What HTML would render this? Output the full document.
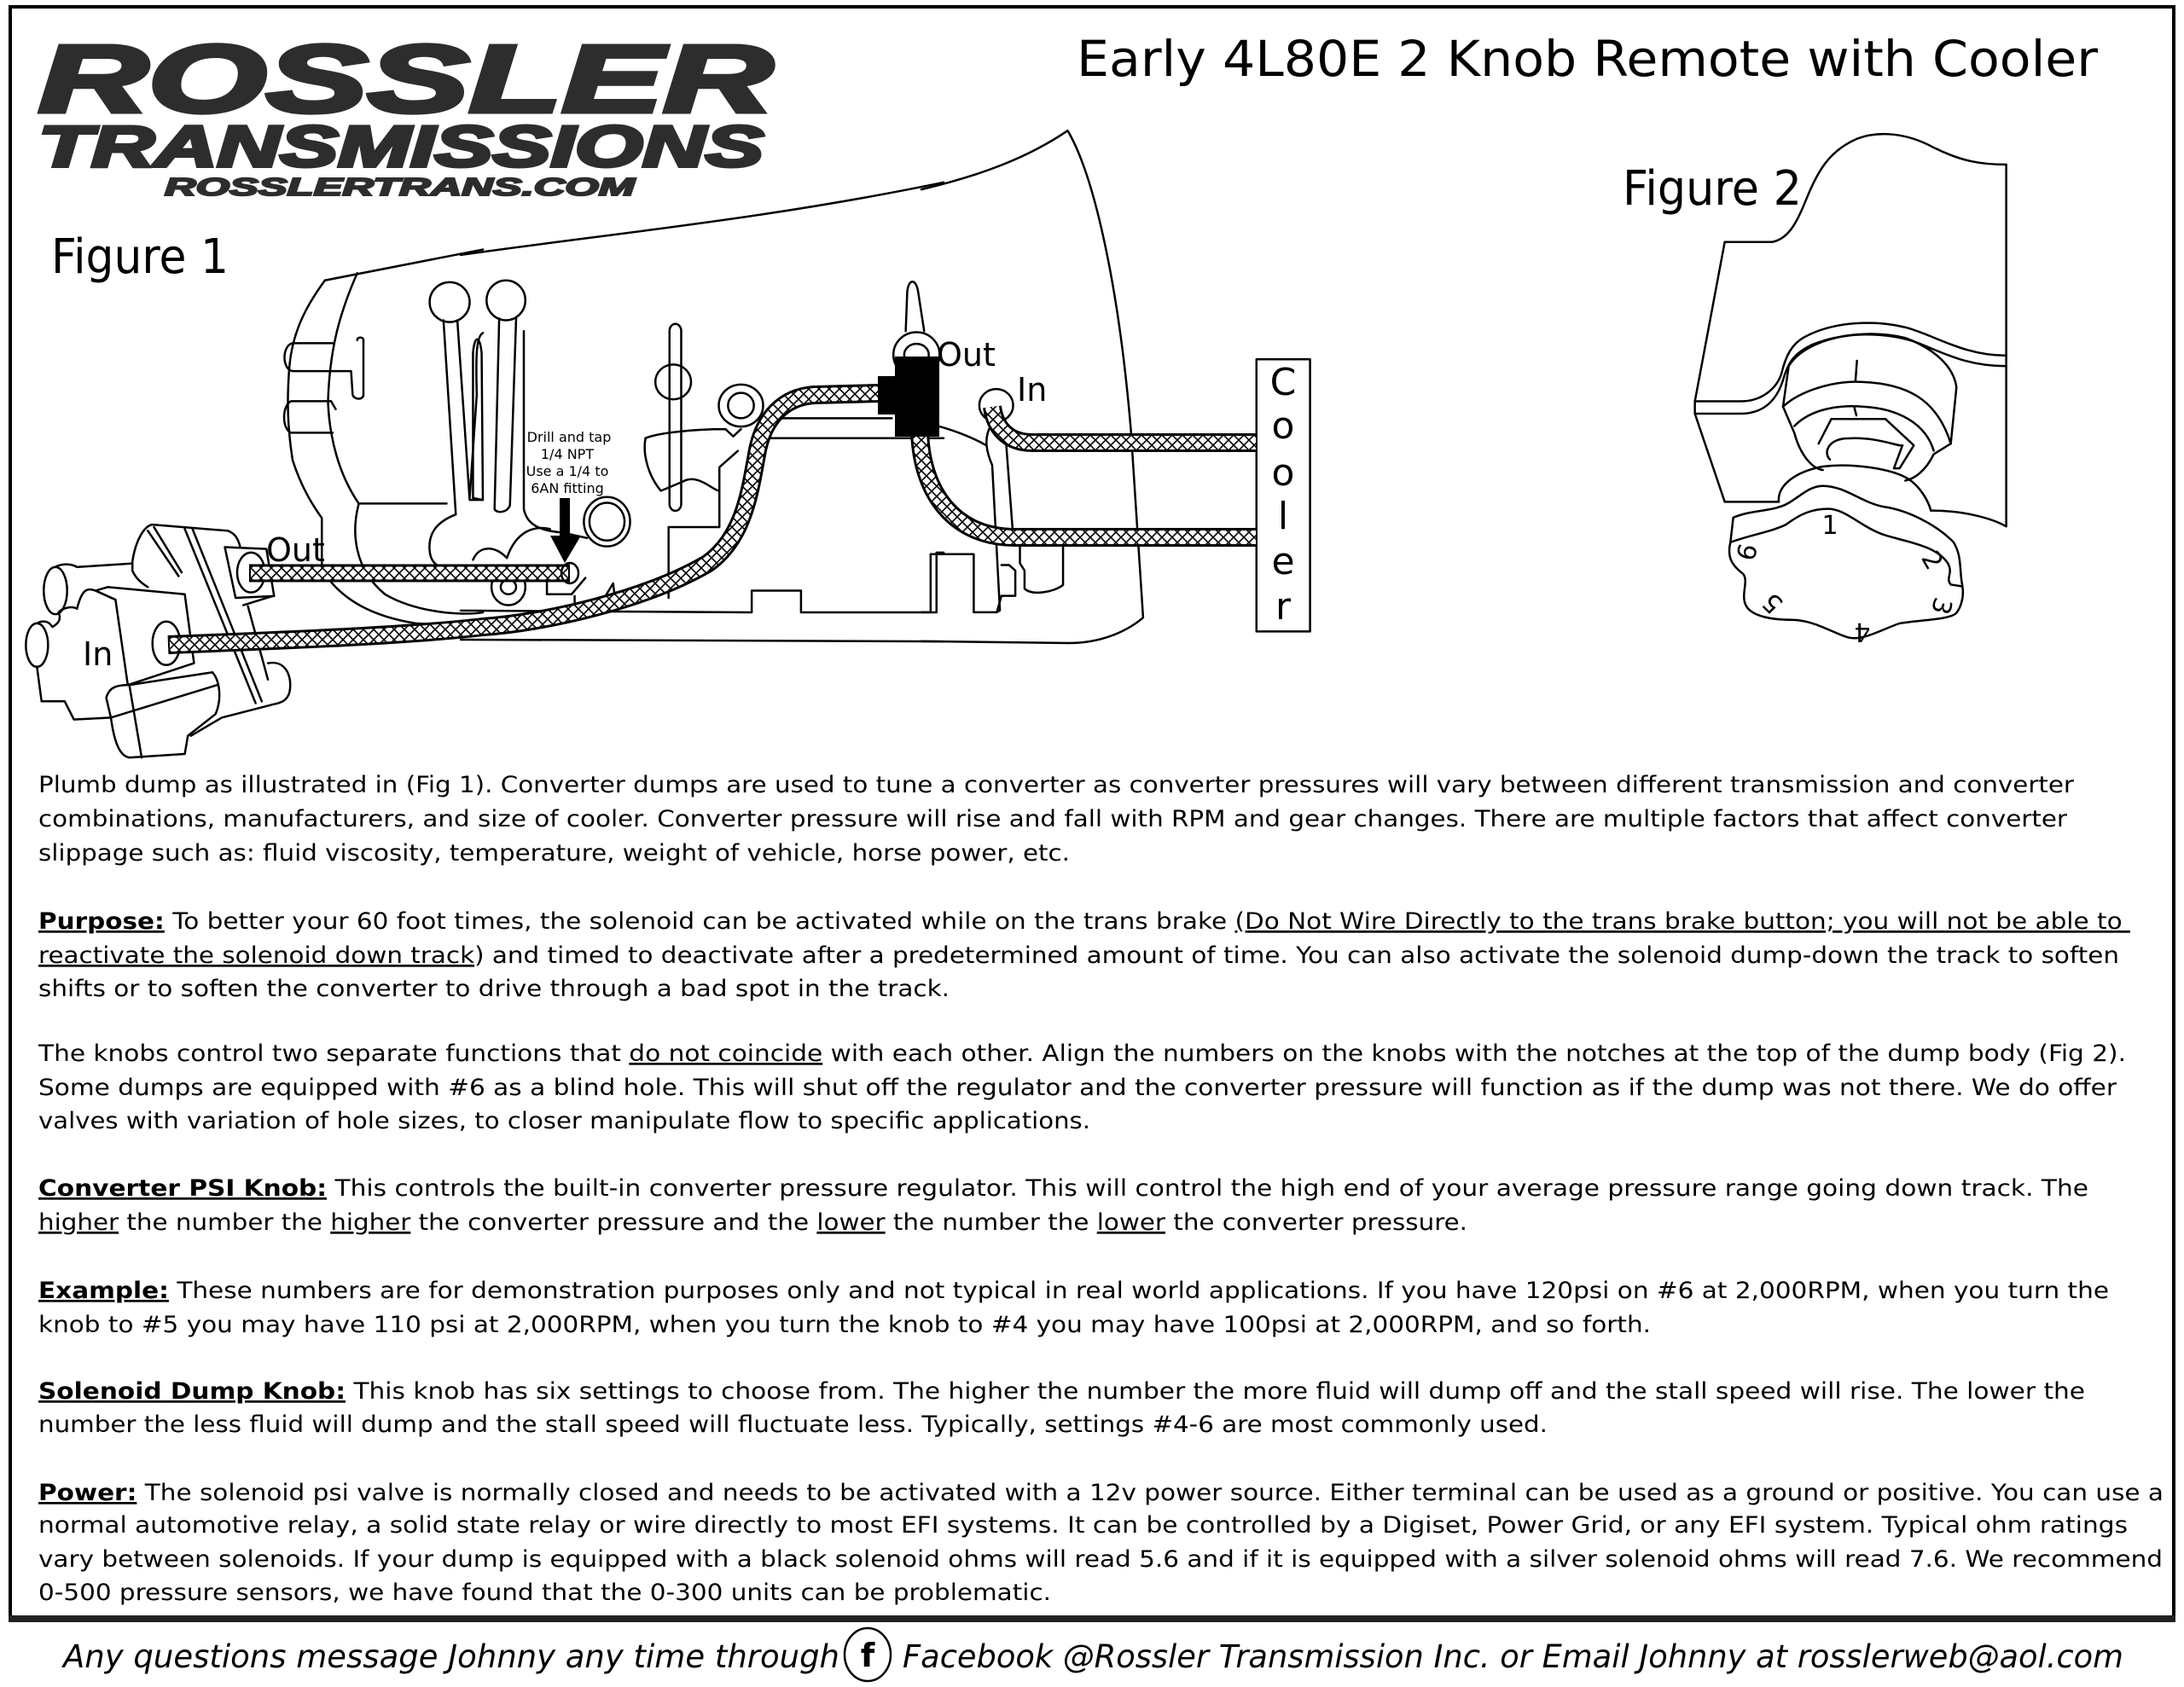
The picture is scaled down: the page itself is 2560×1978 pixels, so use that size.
<!DOCTYPE html>
<html><head><meta charset="utf-8"><style>
html,body{margin:0;padding:0;background:#fff;}
svg{display:block;}
.t{font-family:"DejaVu Sans","Liberation Sans",sans-serif;font-size:27px;fill:#000;white-space:pre;}
.b{font-weight:bold;}
.o{fill:none;stroke:#000;stroke-width:2.5;stroke-linejoin:round;stroke-linecap:round;}
.o *{vector-effect:non-scaling-stroke;}
</style></head><body>
<svg width="2560" height="1978" viewBox="0 0 2560 1978" xmlns="http://www.w3.org/2000/svg">
<defs>
<pattern id="hatch" patternUnits="userSpaceOnUse" width="12" height="12">
<rect width="12" height="12" fill="#fff"/>
<path d="M0,0 L12,12 M12,0 L0,12" stroke="#000" stroke-width="1.6"/>
</pattern>
</defs>
<rect x="0" y="0" width="2560" height="1978" fill="#fff"/>
<rect x="12" y="8" width="2536" height="1890" fill="none" stroke="#000" stroke-width="4"/>
<line x1="10" y1="1898" x2="2550" y2="1898" stroke="#222" stroke-width="8"/>

<g font-family="'Liberation Sans',sans-serif" font-weight="bold" font-style="italic" fill="#2d2d2d" stroke="#2d2d2d">
<text x="45" y="131" font-size="112" textLength="861" lengthAdjust="spacingAndGlyphs" stroke-width="5">ROSSLER</text>
<text x="45" y="195" font-size="68" textLength="850" lengthAdjust="spacingAndGlyphs" stroke-width="4">TRANSMISSIONS</text>
<text x="193" y="229" font-size="29" textLength="551" lengthAdjust="spacingAndGlyphs" stroke-width="2">ROSSLERTRANS.COM</text>
</g>

<text x="1262" y="89" font-family="'DejaVu Sans',sans-serif" font-size="58" textLength="1197" lengthAdjust="spacingAndGlyphs">Early 4L80E 2 Knob Remote with Cooler</text>
<text x="60" y="320" font-family="'DejaVu Sans',sans-serif" font-size="56" textLength="208" lengthAdjust="spacingAndGlyphs">Figure 1</text>
<text x="1902" y="240" font-family="'DejaVu Sans',sans-serif" font-size="56" textLength="210" lengthAdjust="spacingAndGlyphs">Figure 2</text>

<g class="o" transform="translate(0,250) scale(0.361,0.4255)">
<path d="M1055,185 L1568,100"/>
<path d="M1055,185 C990,260 950,330 940,420 C930,520 935,600 950,680 C980,760 1020,810 1045,840 L1045,985"/>
<path d="M1160,165 C1100,280 1070,380 1065,520 C1070,620 1100,720 1165,800 L1450,800"/>
<path d="M1080,358 L950,358 C915,365 915,430 950,435 L1140,435 L1145,500 C1150,515 1180,515 1180,500 L1180,350 C1180,340 1160,340 1160,350"/>
<path d="M1075,518 L945,518 C915,530 915,595 945,605 L1080,605"/>
<path d="M1075,518 L1090,540"/>
<path d="M1165,800 C1140,880 1150,980 1250,1050 C1350,1100 1500,1110 1568,1100"/>
<path d="M1045,980 C1100,1060 1200,1110 1350,1130 L1568,1140"/>
<ellipse cx="1460" cy="245" rx="65" ry="55"/>
<path d="M1440,295 L1480,830 C1420,850 1390,880 1395,930 C1400,980 1450,990 1568,990"/>
<path d="M1485,295 L1525,790 L1568,790"/>
<path d="M1568,330 C1545,340 1545,400 1548,500 L1525,785"/>
<ellipse cx="180" cy="1040" rx="38" ry="65"/>
<path d="M180,975 C200,965 230,965 250,975 L430,965"/>
<ellipse cx="120" cy="1190" rx="36" ry="60"/>
<path d="M120,1130 C140,1120 160,1125 170,1140 C190,1130 200,1120 190,1100 C200,1090 230,1080 250,1090 C265,1040 280,1030 310,1040"/>
<path d="M495,858 C470,860 440,900 430,960 L430,985 C440,1005 460,1020 480,1030"/>
<path d="M310,1040 L350,1030 L600,1050 L630,1240 L415,1300 L375,1065 Z"/>
<path d="M310,1040 L375,1065"/>
<path d="M120,1250 L135,1345 L210,1345 L240,1395 L360,1390"/>
<path d="M345,1335 C355,1305 380,1300 420,1300 L690,1265 C715,1290 720,1340 700,1380 L610,1440 L600,1490 L420,1500 C385,1495 370,1450 360,1390 Z"/>
<path d="M360,1390 L705,1300"/>
<path d="M420,1300 L460,1500"/>
<path d="M495,858 L740,875 C770,885 775,905 780,920"/>
<path d="M480,875 L580,1000 M500,865 L590,990"/>
<path d="M600,870 L830,1350 M625,870 L850,1345"/>
<path d="M805,1083 L870,1285 M790,1080 L885,1055"/>
<path d="M870,1240 C930,1230 950,1280 940,1320 C930,1350 900,1350 880,1355 L720,1390 L620,1440"/>
<path d="M730,920 L865,925 L890,1055 L765,1060 Z"/>
<ellipse cx="815" cy="990" rx="45" ry="55"/>
<ellipse cx="540" cy="1185" rx="45" ry="60"/>
</g>

<g class="o" transform="translate(540,150) scale(0.361,0.4255)">
<path d="M0,350 C500,290 1000,250 1568,150"/>
<ellipse cx="147" cy="475" rx="63" ry="55"/>
<path d="M125,525 L110,1050 C115,1062 150,1062 160,1040 L180,525"/>
<path d="M40,1020 L40,620 C45,570 62,570 68,620 L72,1025 Z"/>
<path d="M205,560 L205,1050 C215,1095 260,1110 330,1115 L410,1130"/>
<path d="M40,1190 C60,1150 110,1150 150,1185 C180,1110 240,1095 290,1105"/>
<ellipse cx="155" cy="1265" rx="55" ry="50"/><ellipse cx="155" cy="1265" rx="25" ry="20"/>
<ellipse cx="690" cy="700" rx="58" ry="48"/>
<rect x="678" y="540" width="38" height="515" rx="19"/>
<ellipse cx="910" cy="765" rx="72" ry="58"/><ellipse cx="910" cy="765" rx="42" ry="35"/>
<path d="M600,855 C640,840 760,830 860,830 L885,850 L910,830"/>
<path d="M600,855 C590,900 610,960 650,1000 L720,975 C770,950 820,1000 840,1000 L840,935 L900,890"/>
<ellipse cx="475" cy="1085" rx="75" ry="68"/><ellipse cx="475" cy="1085" rx="57" ry="52"/>
<path d="M675,1295 L675,1100 L840,1100 L840,1000"/>
<path d="M280,1225 L280,1285 L360,1285 L405,1240"/>
<path d="M370,1290 L370,1340 M470,1290 L495,1255 L500,1290"/>
<path d="M0,1330 L945,1335 L945,1275 L1105,1275 L1105,1335 L1545,1335 L1545,1170 L1568,1170"/>
<path d="M0,1410 L1568,1415"/>
<path d="M990,855 L1568,855 M1000,800 L1400,800"/>
<path d="M1445,560 L1450,450 C1455,415 1478,415 1485,450 L1505,560"/>
<ellipse cx="1480" cy="625" rx="75" ry="62"/><ellipse cx="1480" cy="625" rx="40" ry="30"/>
</g>

<g class="o" transform="translate(1080,120) scale(0.361,0.4255)">
<path d="M0,240 C200,200 350,150 475,78 C560,200 640,500 680,900 L720,1420 C650,1470 560,1490 480,1490 L0,1485"/>
<path d="M20,885 C100,900 170,925 210,945"/>
<path d="M220,900 C205,930 210,960 230,1000 L255,1400 L245,1405"/>
<path d="M270,880 L300,1220"/>
<path d="M0,1405 L30,1405 L30,1245 L170,1245 L170,1405 L245,1405 L260,1360 L305,1360 L305,1290 L285,1275 L260,1275"/>
<path d="M320,1225 L320,1270 L335,1290 L335,1340 C360,1360 430,1350 460,1330 L460,1225"/>
<ellipse cx="243" cy="835" rx="55" ry="45"/>
<rect x="1088" y="708" width="174" height="750"/>
</g>

<g fill="none" stroke-linecap="butt">
<path d="M292,672 L668,672" stroke="#000" stroke-width="21"/>
<path d="M294,672 L666,672" stroke="url(#hatch)" stroke-width="15"/>
<path d="M197,756 C350,750 480,745 566,735 C640,730 757,703 829,661 C872,631 879,576 887,533 C894,490 919,465 955,463 L1031,461" stroke="#000" stroke-width="22"/>
<path d="M199,756 C350,750 480,745 566,735 C640,730 757,703 829,661 C872,631 879,576 887,533 C894,490 919,465 955,463 L1031,461" stroke="url(#hatch)" stroke-width="16"/>
<path d="M1078,505 C1080,580 1120,630 1190,630 L1473,630" stroke="#000" stroke-width="22"/>
<path d="M1078,505 C1080,580 1120,630 1190,630 L1472,630" stroke="url(#hatch)" stroke-width="16"/>
<path d="M1163,477 C1166,500 1180,519 1210,519 L1473,519" stroke="#000" stroke-width="22"/>
<path d="M1163,477 C1166,500 1180,519 1210,519 L1472,519" stroke="url(#hatch)" stroke-width="16"/>
</g>
<ellipse cx="668" cy="672" rx="10" ry="12" fill="none" stroke="#000" stroke-width="2.5"/>
<rect x="1029" y="441" width="27" height="45" fill="#000"/>
<rect x="1049" y="418" width="52" height="94" fill="#000"/>
<rect x="656" y="584" width="12" height="46" fill="#000"/>
<polygon points="645,628 681,628 662,660" fill="#000"/>
<g font-family="'DejaVu Sans',sans-serif" fill="#000">
<text x="312" y="658" font-size="38">Out</text>
<text x="97" y="780" font-size="38">In</text>
<text x="1098" y="429" font-size="38">Out</text>
<text x="1192" y="470" font-size="38">In</text>
<g font-size="16" text-anchor="middle">
<text x="667" y="518">Drill and tap</text>
<text x="665" y="538">1/4 NPT</text>
<text x="665" y="558">Use a 1/4 to</text>
<text x="665" y="578">6AN fitting</text>
</g>
<g font-size="44" text-anchor="middle">
<text x="1504" y="463">C</text>
<text x="1504" y="514">o</text>
<text x="1504" y="569">o</text>
<text x="1504" y="620">l</text>
<text x="1504" y="673">e</text>
<text x="1504" y="726">r</text>
</g>
</g>

<g class="o" transform="translate(1950,140) scale(0.3333,0.4132)">
<path d="M215,348 L380,348 C440,340 470,290 500,230 C540,150 580,90 680,55 C760,30 860,40 950,80 C1050,120 1120,128 1205,128 L1205,1155 C1150,1130 1050,1110 940,1110"/>
<path d="M215,348 L110,800 L110,835 L215,1085 L405,1085"/>
<path d="M110,800 L270,800 C350,800 400,760 415,720 C430,670 450,640 490,620 C600,570 750,570 850,590 C950,610 1050,670 1205,670"/>
<path d="M110,835 L270,835 C360,835 400,790 420,740 C440,680 470,660 520,640 C640,600 780,605 880,630 C980,660 1060,700 1205,700"/>
<path d="M420,815 L440,700 C500,620 700,590 850,620 C950,650 1020,700 1030,760 L1010,920"/>
<path d="M420,815 C480,770 600,740 700,745 C850,750 960,790 1010,920"/>
<path d="M460,870 C520,820 620,810 700,815 C820,820 920,860 950,940"/>
<path d="M420,815 L460,890 C480,950 520,990 560,995"/>
<path d="M1010,920 L950,950 C920,1000 880,1020 850,1025"/>
<path d="M680,685 L675,740 M670,815 L678,840"/>
<path d="M545,920 L590,850 L780,850 L880,925 L830,990 L810,990 L840,925"/>
<path d="M585,965 C560,945 580,905 650,905 C750,900 830,930 840,925"/>
<path d="M405,1085 C400,1040 460,1000 560,985 C660,975 800,990 860,1020 C900,1040 930,1080 940,1110"/>
<path d="M245,1130 C300,1110 380,1110 405,1100 C460,1090 500,1040 560,1040 C640,1040 700,1090 780,1100 C860,1110 960,1150 1020,1200 C1050,1240 1040,1280 1050,1320 C1060,1360 1040,1390 1030,1400 C1010,1420 900,1420 830,1430 C760,1450 700,1480 650,1470 C600,1460 530,1420 450,1420 C380,1420 310,1410 290,1380 C270,1350 300,1310 280,1290 C250,1270 220,1250 235,1200 Z"/>
<path d="M235,1200 C300,1180 380,1170 430,1150 C480,1120 520,1105 580,1105 C640,1105 700,1160 780,1180 C860,1200 960,1210 1000,1260 C1020,1290 990,1300 1010,1320 L1050,1325"/>
</g>
<g font-family="'DejaVu Sans',sans-serif" font-size="30" text-anchor="middle" fill="#000">
<text transform="translate(2145,626)">1</text>
<text transform="translate(2256,662) rotate(60)">2</text>
<text transform="translate(2266,708) rotate(105)">3</text>
<text transform="translate(2183,731) rotate(180)">4</text>
<text transform="translate(2085,700) rotate(225)">5</text>
<text transform="translate(2058,650) rotate(285)">6</text>
</g>

<text class="t" x="45" y="929" textLength="2386" lengthAdjust="spacingAndGlyphs">Plumb dump as illustrated in (Fig 1). Converter dumps are used to tune a converter as converter pressures will vary between different transmission and converter</text>
<text class="t" x="45" y="969" textLength="2378" lengthAdjust="spacingAndGlyphs">combinations, manufacturers, and size of cooler. Converter pressure will rise and fall with RPM and gear changes. There are multiple factors that affect converter</text>
<text class="t" x="45" y="1009" textLength="1209" lengthAdjust="spacingAndGlyphs">slippage such as: fluid viscosity, temperature, weight of vehicle, horse power, etc.</text>

<text class="t" x="45" y="1089" textLength="2452" lengthAdjust="spacingAndGlyphs"><tspan class="b" text-decoration="underline">Purpose:</tspan> To better your 60 foot times, the solenoid can be activated while on the trans brake <tspan text-decoration="underline">(Do Not Wire Directly to the trans brake button; you will not be able to </tspan></text>
<text class="t" x="45" y="1129" textLength="2439" lengthAdjust="spacingAndGlyphs"><tspan text-decoration="underline">reactivate the solenoid down track</tspan>) and timed to deactivate after a predetermined amount of time. You can also activate the solenoid dump-down the track to soften</text>
<text class="t" x="45" y="1168" textLength="1068" lengthAdjust="spacingAndGlyphs">shifts or to soften the converter to drive through a bad spot in the track.</text>

<text class="t" x="45" y="1244" textLength="2447" lengthAdjust="spacingAndGlyphs">The knobs control two separate functions that <tspan text-decoration="underline">do not coincide</tspan> with each other. Align the numbers on the knobs with the notches at the top of the dump body (Fig 2).</text>
<text class="t" x="45" y="1284" textLength="2436" lengthAdjust="spacingAndGlyphs">Some dumps are equipped with #6 as a blind hole. This will shut off the regulator and the converter pressure will function as if the dump was not there. We do offer</text>
<text class="t" x="45" y="1323" textLength="1233" lengthAdjust="spacingAndGlyphs">valves with variation of hole sizes, to closer manipulate flow to specific applications.</text>

<text class="t" x="45" y="1402" textLength="2403" lengthAdjust="spacingAndGlyphs"><tspan class="b" text-decoration="underline">Converter PSI Knob:</tspan> This controls the built-in converter pressure regulator. This will control the high end of your average pressure range going down track. The</text>
<text class="t" x="45" y="1442" textLength="1675" lengthAdjust="spacingAndGlyphs"><tspan text-decoration="underline">higher</tspan> the number the <tspan text-decoration="underline">higher</tspan> the converter pressure and the <tspan text-decoration="underline">lower</tspan> the number the <tspan text-decoration="underline">lower</tspan> the converter pressure.</text>

<text class="t" x="45" y="1522" textLength="2427" lengthAdjust="spacingAndGlyphs"><tspan class="b" text-decoration="underline">Example:</tspan> These numbers are for demonstration purposes only and not typical in real world applications. If you have 120psi on #6 at 2,000RPM, when you turn the</text>
<text class="t" x="45" y="1562" textLength="1890" lengthAdjust="spacingAndGlyphs">knob to #5 you may have 110 psi at 2,000RPM, when you turn the knob to #4 you may have 100psi at 2,000RPM, and so forth.</text>

<text class="t" x="45" y="1640" textLength="2399" lengthAdjust="spacingAndGlyphs"><tspan class="b" text-decoration="underline">Solenoid Dump Knob:</tspan> This knob has six settings to choose from. The higher the number the more fluid will dump off and the stall speed will rise. The lower the</text>
<text class="t" x="45" y="1679" textLength="1769" lengthAdjust="spacingAndGlyphs">number the less fluid will dump and the stall speed will fluctuate less. Typically, settings #4-6 are most commonly used.</text>

<text class="t" x="45" y="1759" textLength="2491" lengthAdjust="spacingAndGlyphs"><tspan class="b" text-decoration="underline">Power:</tspan> The solenoid psi valve is normally closed and needs to be activated with a 12v power source. Either terminal can be used as a ground or positive. You can use a</text>
<text class="t" x="45" y="1797" textLength="2449" lengthAdjust="spacingAndGlyphs">normal automotive relay, a solid state relay or wire directly to most EFI systems. It can be controlled by a Digiset, Power Grid, or any EFI system. Typical ohm ratings</text>
<text class="t" x="45" y="1837" textLength="2490" lengthAdjust="spacingAndGlyphs">vary between solenoids. If your dump is equipped with a black solenoid ohms will read 5.6 and if it is equipped with a silver solenoid ohms will read 7.6. We recommend</text>
<text class="t" x="45" y="1876" textLength="1187" lengthAdjust="spacingAndGlyphs">0-500 pressure sensors, we have found that the 0-300 units can be problematic.</text>

<g font-family="'DejaVu Sans',sans-serif" font-style="italic" font-size="37" fill="#000">
<text x="74" y="1955" textLength="910" lengthAdjust="spacingAndGlyphs">Any questions message Johnny any time through</text>
<text x="1058" y="1955" textLength="1431" lengthAdjust="spacingAndGlyphs">Facebook @Rossler Transmission Inc. or Email Johnny at rosslerweb@aol.com</text>
</g>
<ellipse cx="1017" cy="1940" rx="27" ry="31" fill="none" stroke="#000" stroke-width="2.5"/>
<text x="1017" y="1954" text-anchor="middle" font-family="'DejaVu Sans',sans-serif" font-size="38" font-weight="bold">f</text>
</svg>
</body></html>
